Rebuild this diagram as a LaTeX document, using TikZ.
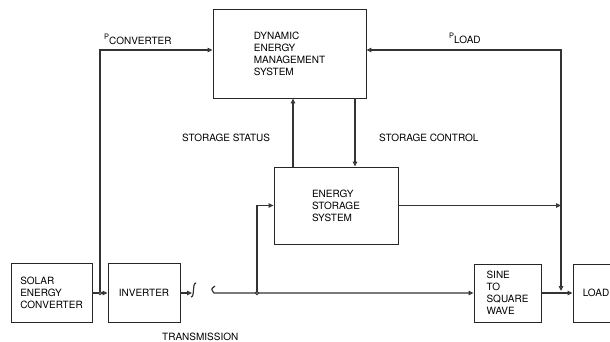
\documentclass[tikz,border=0pt]{standalone}
\usepackage{fontspec}
\setmainfont{TeX Gyre Heros}
\usetikzlibrary{arrows.meta}

\begin{document}
\begin{tikzpicture}[x=1pt, y=-1pt,
        box/.style={draw=black!85, line width=0.8pt, align=left, inner sep=0pt,
            font=\fontsize{10}{12}\selectfont, text=black},
        line/.style={line width=1.2pt, black!80},
        tip/.style={-{Triangle[open, length=5pt, width=4.5pt]}},
        bitip/.style={{Triangle[open, length=5pt, width=4.5pt]}-{Triangle[open, length=5pt, width=4.5pt]}},
        lbl/.style={anchor=base west, inner sep=0pt, font=\fontsize{10}{12}\selectfont, text=black}]
        \clip (0,0) rectangle (610,342);

        % Blocks
        \node[box, minimum width=153pt, minimum height=89pt] (dems) at (289.5,53.5) {DYNAMIC\\ENERGY\\MANAGEMENT\\SYSTEM};
        \node[box, minimum width=124pt, minimum height=77pt] (storage) at (336,205.5) {ENERGY\\STORAGE\\SYSTEM};
        \node[box, minimum width=81pt, minimum height=59pt] (solar) at (51.5,293) {SOLAR\\ENERGY\\CONVERTER};
        \node[box, minimum width=72pt, minimum height=59pt] (inv) at (144,293) {INVERTER};
        \node[box, minimum width=67pt, minimum height=58pt] (sine) at (507.5,293) {SINE\\TO\\SQUARE\\WAVE};
        \node[box, minimum width=46pt, minimum height=58pt] (load) at (596,293) {LOAD};

        % Taps and break
        \coordinate (jc) at (100,293);
        \coordinate (js) at (257,293);
        \coordinate (jl) at (561,291);
        \coordinate (brk1) at (192,293);
        \coordinate (brk2) at (214,293);

        % Power path
        \draw[line, tip] (solar) -- (inv);
        \draw[line, tip] (inv) -- (brk1);
        \draw[line] (191,297) .. controls (195,297) and (192,283) .. (196,283);
        \draw[line, tip] (215,286) .. controls (211,289) .. (brk2) -- (sine);
        \draw[line, tip] (sine) -- (load);

        % Measurements to management
        \draw[line, tip] (jc) |- ([yshift=3.5pt]dems.west);
        \draw[line, bitip] ([yshift=3.5pt]dems.east) -| (jl);

        % Storage status and control
        \draw[line, tip] ([xshift=-43pt]storage.north) -- ([xshift=3.5pt]dems.south);
        \draw[line, tip] ([xshift=65.5pt]dems.south) -- ([xshift=19pt]storage.north);

        % Storage in and out
        \draw[line, tip] (js) |- (storage.west);
        \draw[line, tip] (storage.east) -- (storage.east -| jl);
        \draw[line, fill=white] (jc) circle (1.6pt);
        \draw[line, fill=white] (js) circle (1.6pt);

        % Labels
        \node[lbl] (pconv) at (104,45) {\raisebox{5pt}{\fontsize{7.5}{8}\selectfont P}CONVERTER};
        \node[lbl] (pload) at (449,44) {\raisebox{5pt}{\fontsize{7.5}{8}\selectfont P}LOAD};
        \node[lbl] (sstat) at (182,142) {STORAGE STATUS};
        \node[lbl] (sctrl) at (379,142) {STORAGE CONTROL};
        \node[lbl] (trans) at (162,340) {TRANSMISSION};
    \end{tikzpicture}
\end{document}
